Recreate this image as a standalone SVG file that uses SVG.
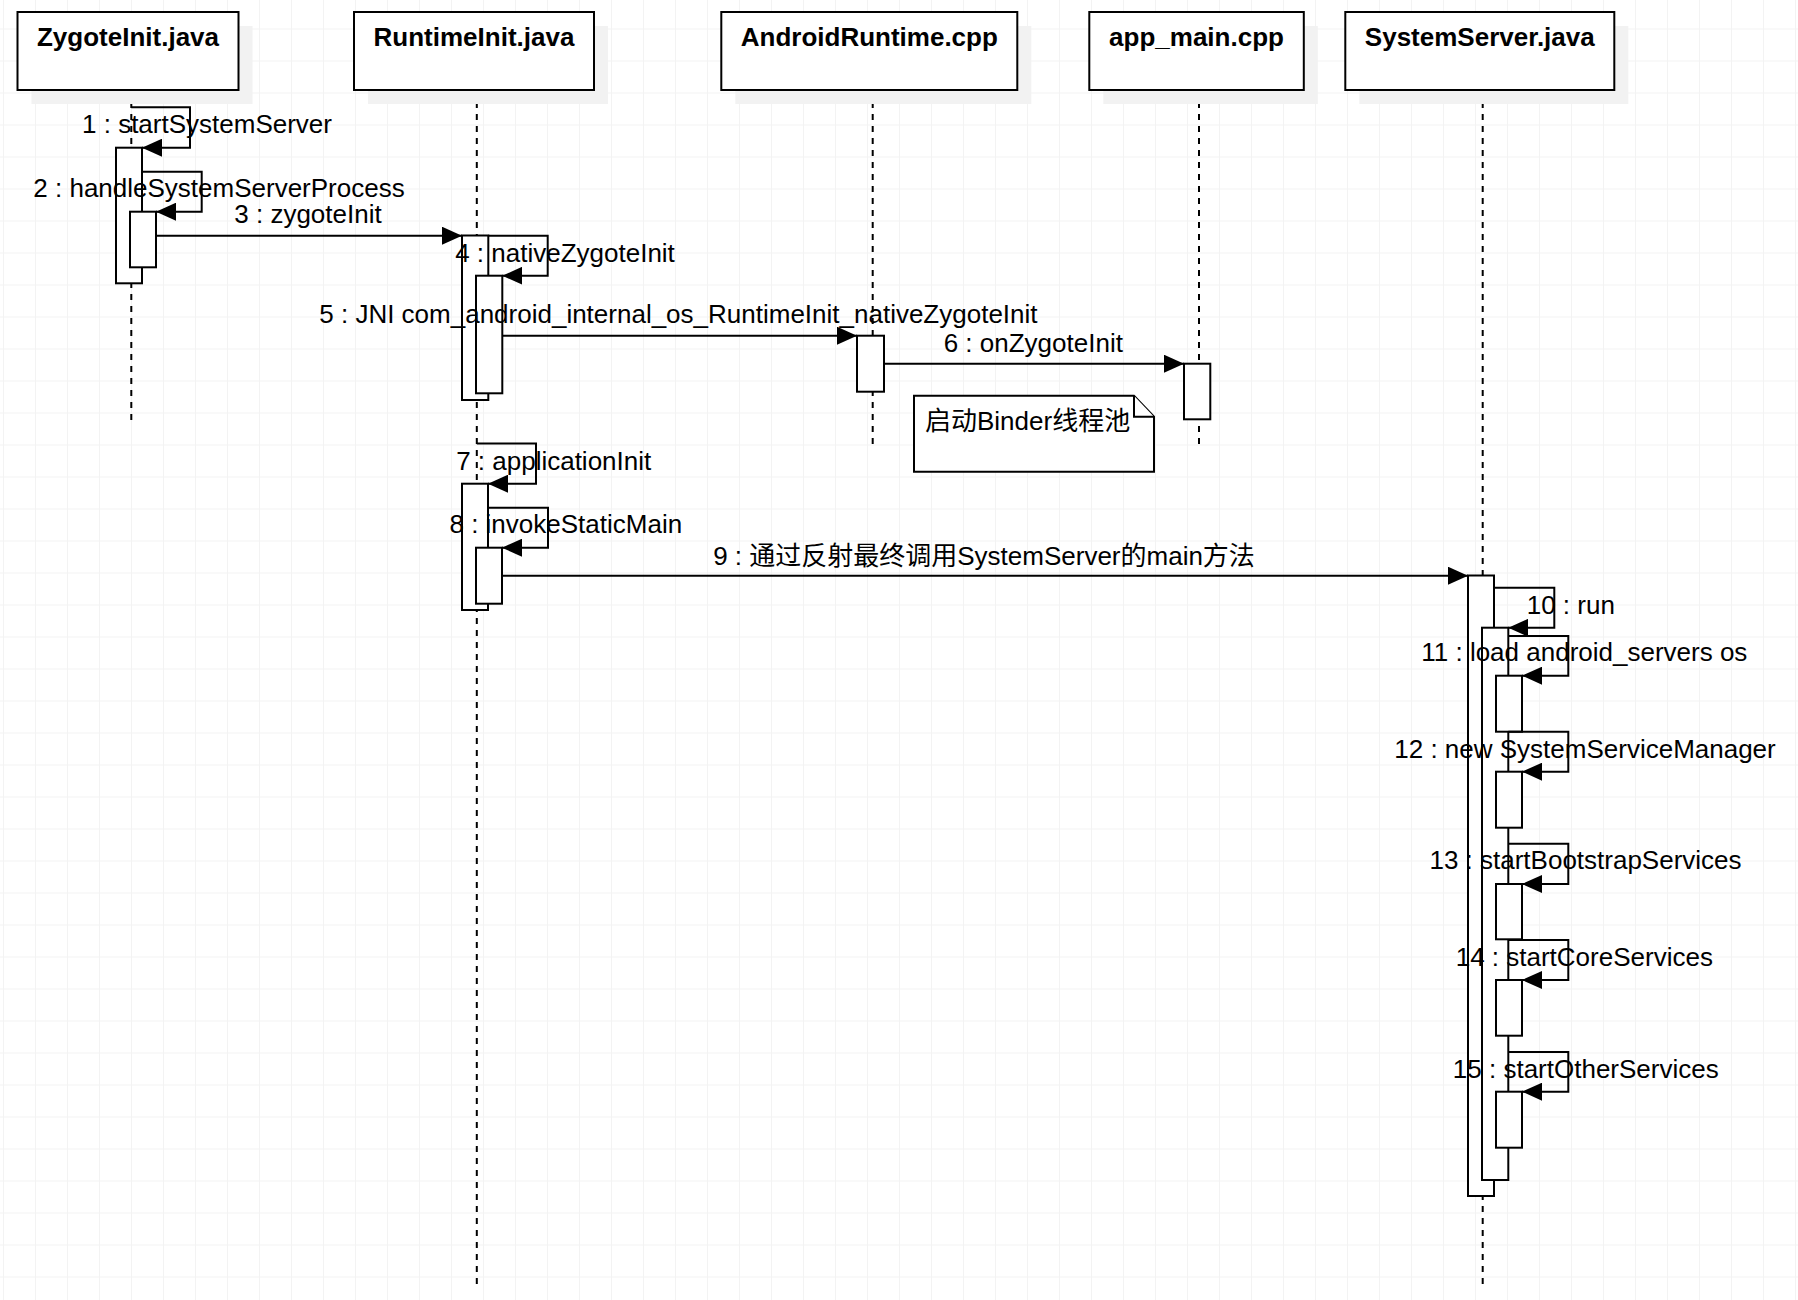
<svg xmlns="http://www.w3.org/2000/svg" width="1798" height="1300" viewBox="0 0 1798 1300">
<defs>
<pattern id="grid" x="3" y="28.5" width="32" height="32" patternUnits="userSpaceOnUse">
<path d="M0.5,0 V32 M0,0.5 H32" fill="none" stroke="#f3f3f3" stroke-width="1"/>
</pattern>
<marker id="arr" markerUnits="userSpaceOnUse" markerWidth="21" markerHeight="18" refX="20" refY="9" orient="auto" viewBox="0 0 21 18">
<path d="M0,0 L20,9 L0,18 Z" fill="#000"/>
</marker>
<style>
.hdr{fill:#fff;stroke:#000;stroke-width:2}
.shd{fill:#f2f2f2;stroke:none}
.ht{font-family:"Liberation Sans",Arial,sans-serif;font-weight:bold;font-size:26px;fill:#000;text-anchor:middle}
.life{stroke:#000;stroke-width:2;stroke-dasharray:6 6;fill:none}
.act{fill:#fff;stroke:#000;stroke-width:2}
.msg{fill:none;stroke:#000;stroke-width:2;marker-end:url(#arr)}
.lbl{font-family:"Liberation Sans",Arial,sans-serif;font-size:26px;fill:#000;text-anchor:middle}
.note{fill:#fff;stroke:#000;stroke-width:2}
.nt{font-family:"Liberation Sans","Noto Sans CJK SC",sans-serif;font-size:26px;fill:#000}
</style>
</defs>
<rect width="1798" height="1300" fill="#fff"/>
<rect width="1798" height="1300" fill="url(#grid)"/>

<g id="lifelines">
<line class="life" x1="131.3" y1="90" x2="131.3" y2="422"/>
<line class="life" x1="476.8" y1="90" x2="476.8" y2="1286"/>
<line class="life" x1="872.7" y1="90" x2="872.7" y2="445"/>
<line class="life" x1="1199" y1="90" x2="1199" y2="445"/>
<line class="life" x1="1482.7" y1="90" x2="1482.7" y2="1286"/>
</g>

<g id="ZygoteInit">
<rect class="shd" x="31.5" y="26" width="221" height="78"/>
<rect class="hdr" x="17.5" y="12" width="221" height="78"/>
<text class="ht" x="128" y="46">ZygoteInit.java</text>
</g>
<g id="RuntimeInit">
<rect class="shd" x="368" y="26" width="240" height="78"/>
<rect class="hdr" x="354" y="12" width="240" height="78"/>
<text class="ht" x="474" y="46">RuntimeInit.java</text>
</g>
<g id="AndroidRuntime">
<rect class="shd" x="735.3" y="26" width="296" height="78"/>
<rect class="hdr" x="721.3" y="12" width="296" height="78"/>
<text class="ht" x="869.3" y="46">AndroidRuntime.cpp</text>
</g>
<g id="app_main">
<rect class="shd" x="1103.3" y="26" width="214.5" height="78"/>
<rect class="hdr" x="1089.3" y="12" width="214.5" height="78"/>
<text class="ht" x="1196.5" y="46">app_main.cpp</text>
</g>
<g id="SystemServer">
<rect class="shd" x="1359.3" y="26" width="269" height="78"/>
<rect class="hdr" x="1345.3" y="12" width="269" height="78"/>
<text class="ht" x="1479.8" y="46">SystemServer.java</text>
</g>

<g id="activations">
<rect class="act" x="116" y="147.7" width="26" height="135.6"/>
<rect class="act" x="130" y="211.7" width="26" height="55.6"/>
<rect class="act" x="462" y="235.5" width="26.3" height="164.5"/>
<rect class="act" x="476" y="275.7" width="26.3" height="117.6"/>
<rect class="act" x="857" y="335.7" width="27" height="56"/>
<rect class="act" x="1184" y="363.7" width="26.3" height="55.6"/>
<rect class="act" x="462" y="483.7" width="26" height="126.3"/>
<rect class="act" x="476" y="547.7" width="26" height="56"/>
<rect class="act" x="1468" y="575.5" width="26" height="620.5"/>
<rect class="act" x="1482" y="627.7" width="26.3" height="552.3"/>
<rect class="act" x="1496" y="675.7" width="26" height="56"/>
<rect class="act" x="1496" y="771.7" width="26" height="56"/>
<rect class="act" x="1496" y="884" width="26" height="55.3"/>
<rect class="act" x="1496" y="980" width="26" height="55.7"/>
<rect class="act" x="1496" y="1091.7" width="26" height="56"/>
</g>

<g id="note">
<path class="note" d="M914,395.7 H1134 L1154,416.7 V471.7 H914 Z"/>
<path class="note" d="M1134,395.7 V416.7 H1154" fill="none"/>
<text class="nt" x="925" y="430">启动Binder线程池</text>
</g>

<g id="connectors">
<path class="msg" d="M131.3,107.3 H190 V147.7 H142"/>
<path class="msg" d="M142,171.7 H201.7 V211.7 H156"/>
<path class="msg" d="M156,235.7 H462"/>
<path class="msg" d="M488.3,235.7 H547.7 V275.7 H502.3"/>
<path class="msg" d="M502.3,335.7 H857"/>
<path class="msg" d="M884,363.7 H1184"/>
<path class="msg" d="M476.8,443.5 H536 V483.7 H488"/>
<path class="msg" d="M488,507.7 H548 V547.7 H502"/>
<path class="msg" d="M502,575.7 H1468"/>
<path class="msg" d="M1494,587.7 H1554.3 V627.7 H1508.3"/>
<path class="msg" d="M1508.3,636 H1568.3 V675.7 H1522"/>
<path class="msg" d="M1508.3,731.7 H1568.3 V771.7 H1522"/>
<path class="msg" d="M1508.3,843.7 H1568.3 V884 H1522"/>
<path class="msg" d="M1508.3,940 H1568.3 V980 H1522"/>
<path class="msg" d="M1508.3,1052 H1568.3 V1091.7 H1522"/>
</g>

<g id="labels">
<text class="lbl" x="207" y="133.3">1 : startSystemServer</text>
<text class="lbl" x="219" y="197">2 : handleSystemServerProcess</text>
<text class="lbl" x="308" y="223">3 : zygoteInit</text>
<text class="lbl" x="565" y="261.7">4 : nativeZygoteInit</text>
<text class="lbl" x="678.4" y="323.3">5 : JNI com_android_internal_os_RuntimeInit_nativeZygoteInit</text>
<text class="lbl" x="1033.3" y="352">6 : onZygoteInit</text>
<text class="lbl" x="553.7" y="470">7 : applicationInit</text>
<text class="lbl" x="565.8" y="533.3">8 : invokeStaticMain</text>
<text class="lbl" x="984" y="565" style="font-family:'Liberation Sans','Noto Sans CJK SC',sans-serif">9 : 通过反射最终调用SystemServer的main方法</text>
<text class="lbl" x="1570.8" y="614">10 : run</text>
<text class="lbl" x="1584.3" y="661">11 : load android_servers os</text>
<text class="lbl" x="1585" y="757.7">12 : new SystemServiceManager</text>
<text class="lbl" x="1585.5" y="869.3">13 : startBootstrapServices</text>
<text class="lbl" x="1584.3" y="965.7">14 : startCoreServices</text>
<text class="lbl" x="1585.8" y="1078.3">15 : startOtherServices</text>
</g>
</svg>
